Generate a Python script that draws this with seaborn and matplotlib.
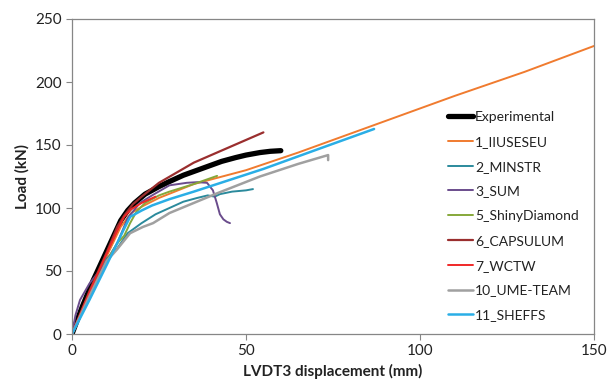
import matplotlib
matplotlib.use("Agg")
import matplotlib.pyplot as plt
import seaborn as sns
import pandas as pd

# ---- data ----
exp_x = [0, 3, 6, 9, 12, 14, 16, 18, 21, 25, 28, 32, 35, 39, 43, 47, 50, 54, 57, 60]
exp_y = [0, 22, 42, 60, 78, 90, 98, 104, 111, 117, 121, 126, 129, 133, 137, 140, 142, 144, 145, 145.5]

s1_x = [0, 5, 10, 14, 17, 20, 25, 35, 50, 65, 85, 110, 130, 150]
s1_y = [0, 32, 62, 85, 96, 101, 108, 119, 130, 144, 164, 189, 208, 228.6]

s2_x = [0, 5, 10, 13, 16, 20, 24, 28, 32, 36, 39, 41, 42.5, 46, 50, 52]
s2_y = [0, 32, 60, 68, 80, 88, 95, 100, 105, 108, 110, 109, 111, 113, 114, 115]

s3_x = [0, 1, 2.3, 5, 9, 13, 16, 19.5, 23, 28, 33, 36, 38.8, 40.5, 41.6, 42.5, 43.5, 44.5, 45.4]
s3_y = [0, 15, 27, 40, 54, 72, 92, 104, 110, 118, 120, 120.5, 120, 114, 104, 95, 91, 89, 88]

s5_x = [0, 5, 10, 13, 15, 16.7, 18.5, 21, 25, 28, 35, 41.7]
s5_y = [0, 30, 58, 72, 78, 88, 97, 104, 110, 113, 119, 125.5]

s6_x = [0, 5, 10, 13, 15, 17.5, 20, 25, 30, 35, 40, 45, 50, 55]
s6_y = [0, 34, 65, 85, 94, 103, 109, 120, 128, 136, 142, 148, 154, 160]

s7_x = [0, 5, 10, 13, 15, 17, 20, 24]
s7_y = [0, 33, 64, 82, 93, 99, 104, 109]

s10_x = [0, 5, 10, 12.9, 16.7, 20.4, 23.3, 28, 35, 42, 54, 65, 73.6, 73.6]
s10_y = [0, 30, 58, 67, 80, 85, 88, 96, 104, 112, 125, 135, 142, 138]

s11_x = [0, 5, 10, 14.7, 16.7, 20, 23, 28, 35, 45, 55, 70, 86.8]
s11_y = [0, 27, 55, 82, 93, 98, 102, 107, 113, 122, 131, 146, 162.7]

names = ["Experimental", "1_IIUSESEU", "2_MINSTR", "3_SUM", "5_ShinyDiamond",
         "6_CAPSULUM", "7_WCTW", "10_UME-TEAM", "11_SHEFFS"]
xs = [exp_x, s1_x, s2_x, s3_x, s5_x, s6_x, s7_x, s10_x, s11_x]
ys = [exp_y, s1_y, s2_y, s3_y, s5_y, s6_y, s7_y, s10_y, s11_y]
colors = ["#000000", "#F07B2F", "#2B8A9C", "#6A4C8C", "#86A83A",
          "#9A2E2E", "#F02828", "#A0A0A0", "#2AAEE6"]
widths = [3.8, 1.4, 1.4, 1.4, 1.4, 1.6, 1.4, 1.8, 1.8]

x_ticks = [0, 50, 100, 150]
y_ticks = [0, 50, 100, 150, 200, 250]

sns.set_theme(style="white")
plt.rcParams["font.family"] = ["Lato", "DejaVu Sans"]

fig = plt.figure(figsize=(6.08, 3.91), dpi=100)
ax = fig.add_axes([72/608, 57/391, (594-72)/608, (334-19)/391])

for name, x, y, c, w in zip(names, xs, ys, colors, widths):
    df = pd.DataFrame({"x": x, "y": y})
    sns.lineplot(data=df, x="x", y="y", ax=ax, sort=False, estimator=None,
                 color=c, linewidth=w, label=name)

ax.set_xlim(0, 150)
ax.set_ylim(0, 250)
ax.set_xticks(x_ticks)
ax.set_yticks(y_ticks)
ax.tick_params(axis="both", labelsize=11, colors="#222222", length=4,
               direction="out", width=0.8, bottom=True, left=True)
ax.tick_params(axis="both", color="#868686")
for sp in ax.spines.values():
    sp.set_color("#868686")
    sp.set_linewidth(0.9)

ax.set_xlabel("LVDT3 displacement (mm)", fontsize=11, fontweight="bold", color="#222222")
ax.set_ylabel("Load (kN)", fontsize=11, fontweight="bold", color="#222222")

leg = ax.legend(loc="upper left", bbox_to_anchor=(0.72, 0.708), frameon=False,
                fontsize=10, handlelength=1.8, handletextpad=0.15,
                labelspacing=0.92, borderaxespad=0, borderpad=0)
for t in leg.get_texts():
    t.set_color("#222222")

fig.savefig("out.png", dpi=100)
